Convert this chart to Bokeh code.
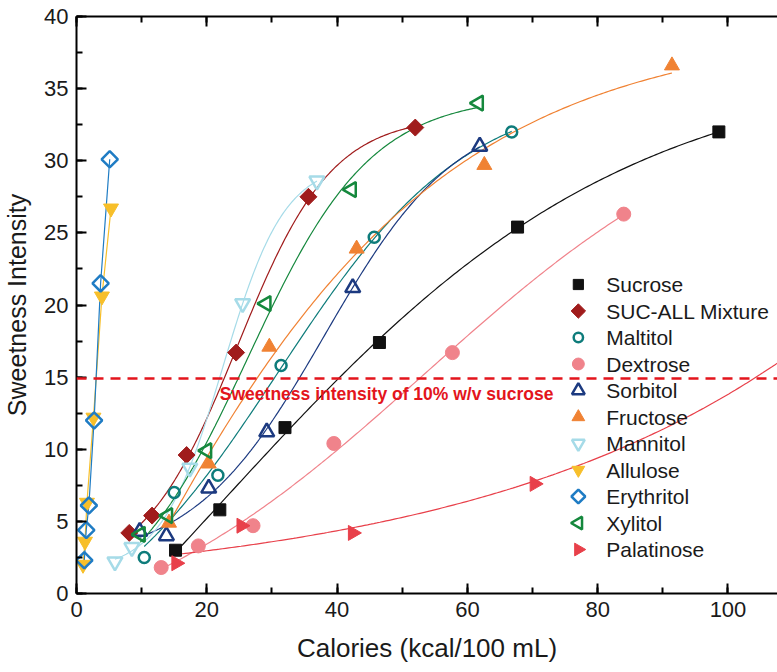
import numpy as np
from bokeh.plotting import figure
from bokeh.core.properties import value
from bokeh.models import (Span, Label, LinearAxis, Range1d, SingleIntervalTicker,
                          CustomJSTickFormatter)
from bokeh.embed import file_html
from bokeh.resources import INLINE

# ---------------- data ----------------
series_names = ["Sucrose", "SUC-ALL Mixture", "Maltitol", "Dextrose", "Sorbitol",
                "Fructose", "Mannitol", "Allulose", "Erythritol", "Xylitol", "Palatinose"]

sucrose_x = [15.2, 22.0, 32.0, 46.5, 67.7, 98.6]
sucrose_y = [3.0, 5.8, 11.5, 17.4, 25.4, 32.0]

sucall_x = [8.1, 11.6, 16.9, 24.5, 35.6, 52.0]
sucall_y = [4.2, 5.4, 9.6, 16.7, 27.5, 32.3]

maltitol_x = [10.4, 15.0, 21.7, 31.4, 45.7, 66.8]
maltitol_y = [2.5, 7.0, 8.2, 15.8, 24.7, 32.0]

dextrose_x = [13.0, 18.7, 27.1, 39.5, 57.7, 84.0]
dextrose_y = [1.8, 3.3, 4.7, 10.4, 16.7, 26.3]

sorbitol_x = [9.7, 13.8, 20.3, 29.2, 42.4, 61.9]
sorbitol_y = [4.3, 4.0, 7.3, 11.2, 21.2, 31.0]

fructose_x = [14.2, 20.3, 29.6, 43.0, 62.6, 91.4]
fructose_y = [4.9, 9.0, 17.1, 23.9, 29.7, 36.6]

mannitol_x = [5.9, 8.5, 17.4, 25.5, 36.9]
mannitol_y = [2.2, 3.2, 8.7, 20.1, 28.6]

allulose_x = [1.0, 1.3, 1.6, 2.6, 3.9, 5.3]
allulose_y = [2.0, 3.6, 6.3, 12.2, 20.6, 26.7]

erythritol_x = [1.2, 1.5, 1.9, 2.7, 3.7, 5.1]
erythritol_y = [2.3, 4.4, 6.1, 12.0, 21.5, 30.1]

xylitol_x = [9.8, 14.0, 20.0, 29.1, 42.2, 61.7]
xylitol_y = [4.1, 5.4, 9.9, 20.1, 28.0, 34.0]

palatinose_x = [15.3, 25.3, 42.4, 70.3]
palatinose_y = [2.1, 4.7, 4.2, 7.6]

threshold = 14.9
threshold_text = "Sweetness intensity of 10% w/v sucrose"

xs_all = [sucrose_x, sucall_x, maltitol_x, dextrose_x, sorbitol_x, fructose_x,
          mannitol_x, allulose_x, erythritol_x, xylitol_x, palatinose_x]
ys_all = [sucrose_y, sucall_y, maltitol_y, dextrose_y, sorbitol_y, fructose_y,
          mannitol_y, allulose_y, erythritol_y, xylitol_y, palatinose_y]

# ---------------- styles ----------------
Q = np.pi / 4
H = np.pi / 2
styles = [
    dict(marker="square", size=12, fill="#111111", line="#111111", lw=1, angle=0.0, color="#111111", fit="sig"),
    dict(marker="square", size=12, fill="#a01c1c", line="#a01c1c", lw=1, angle=Q, color="#a01c1c", fit="sig"),
    dict(marker="circle", size=11, fill=None, line="#0e7c7b", lw=2.5, angle=0.0, color="#0e7c7b", fit="sig"),
    dict(marker="circle", size=14, fill="#f0838b", line="#f0838b", lw=1, angle=0.0, color="#f0838b", fit="sig"),
    dict(marker="triangle", size=15, fill=None, line="#1c3a80", lw=2.5, angle=0.0, color="#1c3a80", fit="sig"),
    dict(marker="triangle", size=15, fill="#f08233", line="#f08233", lw=1, angle=0.0, color="#f08233", fit="sig"),
    dict(marker="inverted_triangle", size=15, fill=None, line="#a6dbe8", lw=2.5, angle=0.0, color="#a6dbe8", fit="sig"),
    dict(marker="inverted_triangle", size=15, fill="#f7bf2a", line="#f7bf2a", lw=1, angle=0.0, color="#f7bf2a", fit="seg"),
    dict(marker="square", size=11.5, fill=None, line="#1f7cc4", lw=2.5, angle=Q, color="#1f7cc4", fit="seg"),
    dict(marker="triangle", size=15, fill=None, line="#15883d", lw=2.5, angle=H, color="#15883d", fit="sig"),
    dict(marker="triangle", size=15, fill="#e8404a", line="#e8404a", lw=1, angle=-H, color="#e8404a", fit="exp"),
]

X_END = 107.6
Y_END = 40
FONT = "Liberation Sans"
W, HT = 777, 672
BL, BR, BT, BB = 73, 0, 16, 79
FW, FH = W - BL - BR, HT - BT - BB

p = figure(width=W, height=HT, x_range=Range1d(0, X_END), y_range=Range1d(0, Y_END),
           output_backend="svg", toolbar_location=None,
           min_border_left=BL, min_border_right=BR, min_border_top=BT, min_border_bottom=BB)
p.grid.visible = False
p.outline_line_color = None
p.background_fill_color = "white"
p.border_fill_color = "white"

p.xaxis.ticker = SingleIntervalTicker(interval=20, num_minor_ticks=2)
p.yaxis.ticker = SingleIntervalTicker(interval=5, num_minor_ticks=2)
p.xaxis.axis_label = "Calories (kcal/100 mL)"
p.yaxis.axis_label = "Sweetness Intensity"

for ax in (p.xaxis[0], p.yaxis[0]):
    ax.axis_line_width = 2
    ax.major_tick_in = 10
    ax.major_tick_out = 0
    ax.minor_tick_in = 6
    ax.minor_tick_out = 0
    ax.major_tick_line_width = 2
    ax.minor_tick_line_width = 2
    ax.major_label_text_font = FONT
    ax.major_label_text_font_size = "22px"
    ax.major_label_text_color = "#1a1a1a"
    ax.axis_label_text_font = FONT
    ax.axis_label_text_font_style = "normal"
    ax.axis_label_text_color = "#1a1a1a"
    ax.major_label_standoff = 8
p.xaxis.axis_label_text_font_size = "26px"
p.yaxis.axis_label_text_font_size = "25px"
p.xaxis.axis_label_standoff = 13
p.yaxis.axis_label_standoff = 10

top = LinearAxis(ticker=SingleIntervalTicker(interval=20, num_minor_ticks=2),
                 formatter=CustomJSTickFormatter(code="return ''"),
                 major_label_standoff=0,
                 major_tick_in=10, major_tick_out=0, minor_tick_in=6, minor_tick_out=0,
                 axis_line_width=2, major_tick_line_width=2, minor_tick_line_width=2)
p.add_layout(top, "above")


def sigmoid_fit(x, y):
    """Boltzmann fit y = c0 + c1 / (1 + exp((x - x0)/dx)) by grid over (x0, dx)."""
    x0s = np.linspace(x.min() - 20, x.max() * 2.0, 400)
    dxs = np.linspace(0.5, 80, 320)
    X0, DX = np.meshgrid(x0s, dxs, indexing="ij")
    S = 1.0 / (1.0 + np.exp((x[None, None, :] - X0[..., None]) / DX[..., None]))
    sm = S.mean(-1, keepdims=True)
    ym = y.mean()
    Sc = S - sm
    sss = (Sc ** 2).sum(-1)
    ssy = (Sc * (y - ym)).sum(-1)
    syy = ((y - ym) ** 2).sum()
    valid = sss > 1e-9
    res = np.where(valid, syy - ssy ** 2 / np.where(valid, sss, 1), np.inf)
    i, j = np.unravel_index(np.argmin(res), res.shape)
    c1 = ssy[i, j] / sss[i, j]
    c0 = ym - c1 * sm[i, j, 0]
    return lambda t: c0 + c1 / (1.0 + np.exp((t - x0s[i]) / dxs[j]))


def fit_curve(x, y, kind):
    x = np.asarray(x, float)
    y = np.asarray(y, float)
    if kind == "seg":
        return x, y
    if kind == "exp":
        b, lna = np.polyfit(x, np.log(y), 1)
        xx = np.linspace(x.min(), X_END + 2, 200)
        return xx, np.exp(lna) * np.exp(b * xx)
    f = sigmoid_fit(x, y)
    xx = np.linspace(x.min(), x.max(), 200)
    return xx, f(xx)


# fitted lines first
for x, y, st in zip(xs_all, ys_all, styles):
    fx, fy = fit_curve(x, y, st["fit"])
    p.line(fx, fy, line_color=st["color"], line_width=1.2)

# reference line and its text
p.add_layout(Span(location=threshold, dimension="width", line_color="#e3151c",
                  line_width=2.5, line_dash="10 7"))
p.add_layout(Label(x=22.0, y=threshold, y_offset=-15, text=threshold_text,
                   text_font=FONT, text_font_size="17.5px", text_font_style="bold",
                   text_color="#e3151c", text_baseline="middle", text_align="left"))

# data markers
for x, y, st in zip(xs_all, ys_all, styles):
    p.scatter(x, y, marker=st["marker"], size=st["size"], angle=st["angle"],
              fill_color=st["fill"], line_color=st["line"], line_width=st["lw"])

# legend (drawn as glyphs so that rotated markers keep their orientation)
LEG_SWATCH_PX, LEG_TEXT_PX, LEG_TOP_PX, LEG_STEP_PX = 577, 605, 284, 26.5
n = len(series_names)
rows_px = LEG_TOP_PX + LEG_STEP_PX * np.arange(n)
leg_y = Y_END * (BT + FH - rows_px) / FH
leg_sx = X_END * (LEG_SWATCH_PX - BL) / FW
leg_tx = X_END * (LEG_TEXT_PX - BL) / FW
for k, st in enumerate(styles):
    p.scatter([leg_sx], [leg_y[k]], marker=st["marker"], size=st["size"] * 0.85,
              angle=st["angle"], fill_color=st["fill"], line_color=st["line"],
              line_width=st["lw"])
p.text(x=[leg_tx] * n, y=list(leg_y), text=series_names, text_font=value(FONT),
       text_font_size=value("21px"), text_baseline="middle", text_align="left",
       text_color="#1a1a1a")

open("out.html", "w").write(file_html(p, INLINE))
